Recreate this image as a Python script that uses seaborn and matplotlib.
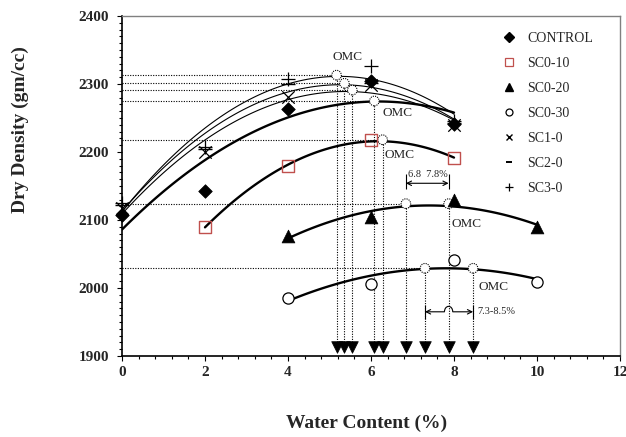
import numpy as np
import pandas as pd
import matplotlib
matplotlib.use("Agg")
import matplotlib.pyplot as plt
from matplotlib.lines import Line2D
from matplotlib.patches import Arc
import seaborn as sns

# ---------------- data ----------------
x_full = [0, 2, 4, 6, 8]
control = [2107, 2142, 2263, 2304, 2241]
sc3_0 = [2125, 2207, 2307, 2326, 2245]
sc2_0 = [2122, 2205, 2300, 2302, 2243]
sc1_0 = [2117, 2200, 2281, 2299, 2240]

x_sc010 = [2, 4, 6, 8]
sc0_10 = [2090, 2179, 2218, 2191]

x_late = [4, 6, 8, 10]
sc0_20 = [2076, 2104, 2129, 2090]
sc0_30 = [1985, 2006, 2041, 2009]

# OMC / MDD read-offs (peaks)
omc_x = [5.17, 5.36, 5.55, 6.08, 6.28, 6.84, 7.87, 7.30, 8.46]
mdd_y = [2313, 2301, 2291, 2275, 2218, 2124, 2124, 2029, 2029]
omc_first = [True, True, True, True, True, True, False, True, False]

xticks = [0, 2, 4, 6, 8, 10, 12]
yticks = [1900, 2000, 2100, 2200, 2300, 2400]

omc_labels = [(5.43, 2340), (6.65, 2257), (6.70, 2196), (8.31, 2094), (8.95, 2001)]

# ---------------- style ----------------
sns.set_theme(style="white")
plt.rcParams["font.family"] = ["Liberation Serif", "DejaVu Serif"]

fig = plt.figure(figsize=(6.26, 4.37), dpi=100)
ax = fig.add_axes([122 / 626, 1 - 356 / 437, 498 / 626, 340 / 437])
ax.set_xlim(0, 12)
ax.set_ylim(1900, 2400)

# fitted (2nd order) trend curves
thick = dict(color="black", lw=1.7, zorder=3)
thin = dict(color="black", lw=0.8, zorder=3)
for xs, ys, kw in [
    (x_full, control, thick),
    (x_sc010, sc0_10, thick),
    (x_late, sc0_20, thick),
    (x_late, sc0_30, thick),
    (x_full, sc1_0, thin),
    (x_full, sc2_0, thin),
    (x_full, sc3_0, thin),
]:
    sns.regplot(x=np.array(xs, float), y=np.array(ys, float), order=2, ci=None,
                scatter=False, truncate=True, line_kws=kw, ax=ax)

# dotted guide lines
dot = dict(colors="black", linestyles=(0, (1, 1.3)), lw=0.8, zorder=2)
arrow_y = 1913
for xo, yo, first in zip(omc_x, mdd_y, omc_first):
    if first:
        ax.hlines(yo, 0, xo, **dot)
ax.vlines(omc_x, arrow_y + 8, mdd_y, **dot)

# arrow heads at bottom
sns.scatterplot(x=omc_x, y=[arrow_y] * len(omc_x), marker="v", s=70,
                color="black", edgecolor="black", linewidth=0.5, ax=ax,
                zorder=4, legend=False)

# peak circles
ax.scatter(omc_x, mdd_y, s=48, facecolor="white", edgecolor="black",
           linewidths=0.8, linestyle=(0, (1, 1)), zorder=6)

# data markers
red = "#C0504D"
sns.scatterplot(x=x_full, y=control, marker="D", s=48, color="black",
                edgecolor="black", linewidth=0.5, ax=ax, zorder=7,
                legend=False, clip_on=False)
sns.scatterplot(x=x_sc010, y=sc0_10, marker="s", s=80, facecolor="none",
                edgecolor=red, linewidth=1.0, ax=ax, zorder=7, legend=False)
sns.scatterplot(x=x_late, y=sc0_20, marker="^", s=85, color="black",
                edgecolor="black", linewidth=0.5, ax=ax, zorder=7, legend=False)
sns.scatterplot(x=x_late, y=sc0_30, marker="o", s=65, facecolor="white",
                edgecolor="black", linewidth=0.9, ax=ax, zorder=7, legend=False)
sns.scatterplot(x=x_full, y=sc1_0, marker="x", s=80, color="black",
                linewidth=0.9, ax=ax, zorder=7, legend=False, clip_on=False)
sns.scatterplot(x=x_full, y=sc2_0, marker="_", s=90, color="black",
                linewidth=1.0, ax=ax, zorder=7, legend=False, clip_on=False)
sns.scatterplot(x=x_full, y=sc3_0, marker="+", s=100, color="black",
                linewidth=0.9, ax=ax, zorder=7, legend=False, clip_on=False)

# OMC labels
for xo, yo in omc_labels:
    ax.text(xo, yo, "OMC", ha="center", va="center", fontsize=9.5, zorder=8)

# bracket 6.8 - 7.8 %
yb1 = 2154
ax.annotate("", xy=(6.84, yb1), xytext=(7.87, yb1),
            arrowprops=dict(arrowstyle="<->", lw=0.8, color="black",
                            shrinkA=0, shrinkB=0, mutation_scale=8))
ax.vlines([6.84, 7.87], yb1 - 9, yb1 + 13, colors="black", lw=0.8)
ax.text(7.36, 2167, "6.8  7.8%", ha="center", va="center", fontsize=7.5)

# bracket 7.3 - 8.5 %
yb2 = 1965
ax.annotate("", xy=(7.30, yb2), xytext=(7.77, yb2),
            arrowprops=dict(arrowstyle="->", lw=0.8, color="black",
                            shrinkA=0, shrinkB=0, mutation_scale=8))
ax.annotate("", xy=(8.46, yb2), xytext=(7.97, yb2),
            arrowprops=dict(arrowstyle="->", lw=0.8, color="black",
                            shrinkA=0, shrinkB=0, mutation_scale=8))
ax.add_patch(Arc((7.87, yb2), 0.2, 16, theta1=0, theta2=180, lw=0.8,
                 color="black"))
ax.vlines([7.30, 8.46], yb2 - 10, yb2 + 10, colors="black", lw=0.8)
ax.text(8.57, yb2 + 1, "7.3-8.5%", ha="left", va="center", fontsize=7.5)

# axes styling
ax.set_xticks(xticks)
ax.set_xticklabels([str(t) for t in xticks], fontweight="bold", fontsize=11)
ax.set_yticks(yticks)
ax.set_yticklabels([str(t) for t in yticks], fontweight="bold", fontsize=11)
ax.set_xticks(np.arange(0, 12.01, 0.4), minor=True)
ax.set_yticks(np.arange(1900, 2400.1, 10), minor=True)
ax.tick_params(which="both", direction="out", bottom=True, left=True,
               top=False, right=False, color="black", width=0.8)
ax.tick_params(axis="y", which="major", length=3.5, pad=6)
ax.tick_params(axis="x", which="major", length=3.5, pad=4)
ax.tick_params(which="minor", length=2.5)
for s in ["left", "bottom"]:
    ax.spines[s].set_color("black")
    ax.spines[s].set_linewidth(1.2)
for s in ["top", "right"]:
    ax.spines[s].set_color("#808080")
    ax.spines[s].set_linewidth(1.0)
ax.grid(False)

ax.set_xlabel("Water Content (%)", fontsize=14, fontweight="bold")
ax.xaxis.set_label_coords(0.492, -0.197)
ax.xaxis.label.set_va("center")
ax.set_ylabel("Dry Density (gm/cc)", fontsize=14, fontweight="bold")
ax.yaxis.set_label_coords(-0.205, 0.665)
ax.yaxis.label.set_va("center")

# legend
handles = [
    Line2D([], [], ls="none", marker="D", ms=5, mfc="black", mec="black"),
    Line2D([], [], ls="none", marker="s", ms=5.5, mfc="none", mec=red, mew=0.9),
    Line2D([], [], ls="none", marker="^", ms=6, mfc="black", mec="black"),
    Line2D([], [], ls="none", marker="o", ms=5, mfc="none", mec="black", mew=0.9),
    Line2D([], [], ls="none", marker="x", ms=5, mec="black", mew=1.0),
    Line2D([], [], ls="none", marker="_", ms=5, mec="black", mew=1.4),
    Line2D([], [], ls="none", marker="+", ms=6, mec="black", mew=0.9),
]
labels = ["CONTROL", "SC0-10", "SC0-20", "SC0-30", "SC1-0", "SC2-0", "SC3-0"]
ax.legend(handles, labels, loc="upper left", bbox_to_anchor=(0.763, 0.953),
          frameon=False, fontsize=10, handlelength=1.0, handletextpad=0.8,
          labelspacing=0.86, borderpad=0, borderaxespad=0)

fig.savefig("out.png", dpi=100)
